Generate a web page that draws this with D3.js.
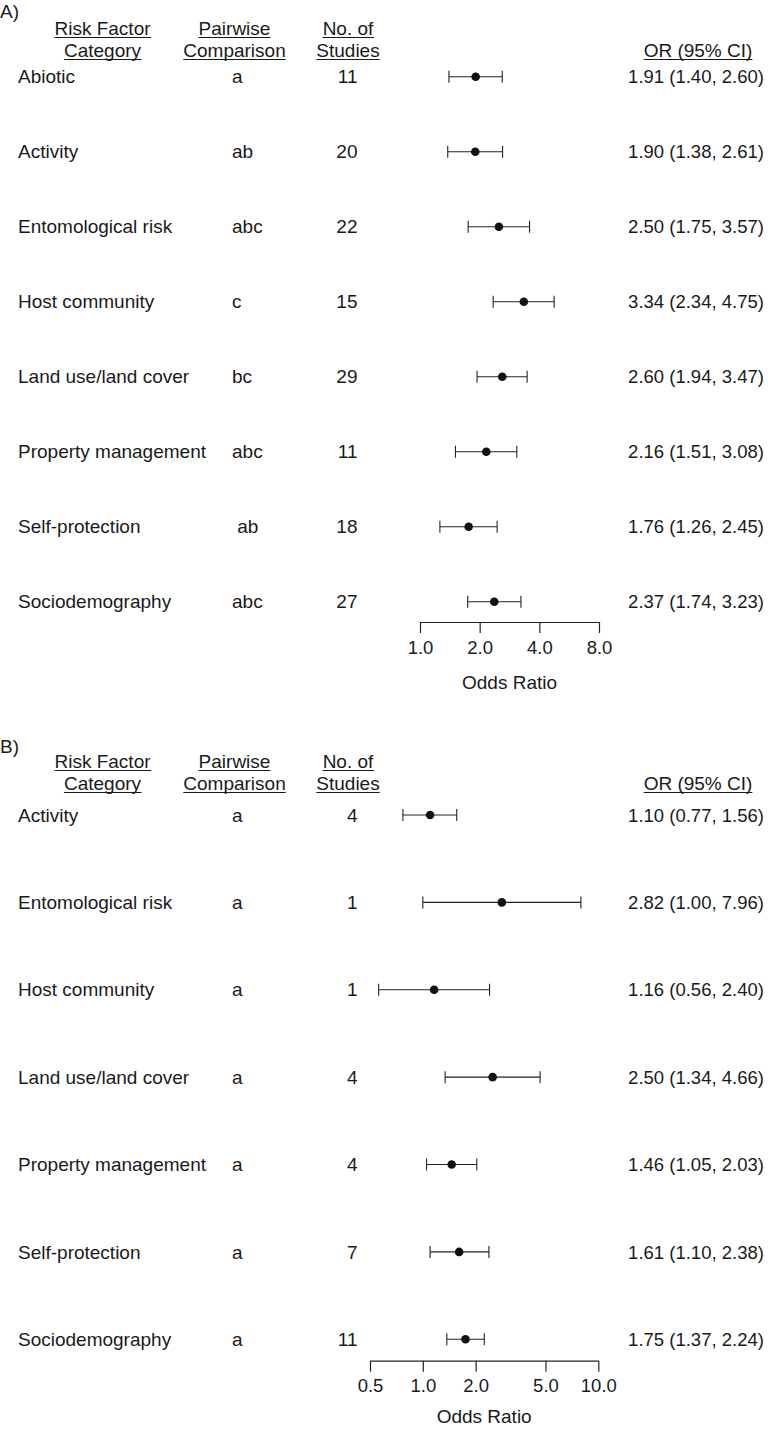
<!DOCTYPE html>
<html>
<head>
<meta charset="utf-8">
<script src="https://cdn.jsdelivr.net/npm/d3@7"></script>
<style>
  html, body { margin: 0; padding: 0; background: #fff; }
  svg text { font-family: "Liberation Sans", Arial, Helvetica, sans-serif; fill: #1a1a1a; }
</style>
</head>
<body>
<svg id="chart" width="768" height="1430"></svg>
<script>
// ---------- Panel A data ----------
const categoriesA = ["Abiotic", "Activity", "Entomological risk", "Host community", "Land use/land cover", "Property management", "Self-protection", "Sociodemography"];
const pairwiseA = ["a", "ab", "abc", "c", "bc", "abc", " ab", "abc"];
const studiesA = [11, 20, 22, 15, 29, 11, 18, 27];
const orA = [1.91, 1.90, 2.50, 3.34, 2.60, 2.16, 1.76, 2.37];
const lowA = [1.40, 1.38, 1.75, 2.34, 1.94, 1.51, 1.26, 1.74];
const highA = [2.60, 2.61, 3.57, 4.75, 3.47, 3.08, 2.45, 3.23];
const ticksA = [1, 2, 4, 8];

// ---------- Panel B data ----------
const categoriesB = ["Activity", "Entomological risk", "Host community", "Land use/land cover", "Property management", "Self-protection", "Sociodemography"];
const pairwiseB = ["a", "a", "a", "a", "a", "a", "a"];
const studiesB = [4, 1, 1, 4, 4, 7, 11];
const orB = [1.10, 2.82, 1.16, 2.50, 1.46, 1.61, 1.75];
const lowB = [0.77, 1.00, 0.56, 1.34, 1.05, 1.10, 1.37];
const highB = [1.56, 7.96, 2.40, 4.66, 2.03, 2.38, 2.24];
const ticksB = [0.5, 1, 2, 5, 10];

const headers = [["Risk Factor", "Category"], ["Pairwise", "Comparison"], ["No. of", "Studies"]];
const orHeader = "OR (95% CI)";
const axisTitle = "Odds Ratio";

const svg = d3.select("#chart");
const f2 = d3.format(".2f");
const f1 = d3.format(".1f");
const FS = 19;
const FN = 18.5;

function underlined(g, x, y, txt, anchor) {
  const t = g.append("text").attr("x", x).attr("y", y).attr("text-anchor", anchor)
    .style("font-size", FS + "px").text(txt);
  const bb = t.node().getBBox();
  g.append("line").attr("x1", bb.x).attr("x2", bb.x + bb.width)
    .attr("y1", y + 2.5).attr("y2", y + 2.5)
    .attr("stroke", "#1a1a1a").attr("stroke-width", 1);
}

function panel(cfg) {
  const g = svg.append("g");
  g.append("text").attr("x", 0).attr("y", cfg.letterY).style("font-size", FS + "px").text(cfg.letter);
  const hx = [102.5, 234.5, 348];
  headers.forEach((h, i) => {
    underlined(g, hx[i], cfg.h1Y, h[0], "middle");
    underlined(g, hx[i], cfg.h2Y, h[1], "middle");
  });
  underlined(g, 698, cfg.h2Y, orHeader, "middle");

  const x = d3.scaleLog().domain(cfg.domain).range(cfg.range);
  const y = d3.scaleLinear().domain([0, cfg.cats.length - 1]).range(cfg.yRange);

  const rows = g.selectAll("g.row").data(cfg.cats.map((c, i) => i)).enter().append("g").attr("class", "row");
  rows.append("text").attr("x", 18).attr("y", i => y(i) + 6.6)
    .style("font-size", FS + "px").text(i => cfg.cats[i]);
  rows.append("text").attr("x", 232).attr("y", i => y(i) + 6.6)
    .style("font-size", FS + "px").style("white-space", "pre").text(i => cfg.pair[i]);
  rows.append("text").attr("x", 357.5).attr("y", i => y(i) + 6.6).attr("text-anchor", "end")
    .style("font-size", FS + "px").text(i => cfg.n[i]);
  rows.append("text").attr("x", 696).attr("y", i => y(i) + 6.6).attr("text-anchor", "middle")
    .style("font-size", FN + "px")
    .text(i => `${f2(cfg.or[i])} (${f2(cfg.lo[i])}, ${f2(cfg.hi[i])})`);

  rows.append("line").attr("x1", i => x(cfg.lo[i])).attr("x2", i => x(cfg.hi[i]))
    .attr("y1", i => y(i)).attr("y2", i => y(i)).attr("stroke", "#222").attr("stroke-width", 1.1);
  rows.append("line").attr("x1", i => x(cfg.lo[i])).attr("x2", i => x(cfg.lo[i]))
    .attr("y1", i => y(i) - 6).attr("y2", i => y(i) + 6).attr("stroke", "#222").attr("stroke-width", 1.1);
  rows.append("line").attr("x1", i => x(cfg.hi[i])).attr("x2", i => x(cfg.hi[i]))
    .attr("y1", i => y(i) - 6).attr("y2", i => y(i) + 6).attr("stroke", "#222").attr("stroke-width", 1.1);
  rows.append("circle").attr("cx", i => x(cfg.or[i])).attr("cy", i => y(i)).attr("r", 4.3).attr("fill", "#111");

  const ax = g.append("g").attr("transform", `translate(0,${cfg.axisY})`)
    .call(d3.axisBottom(x).tickValues(cfg.ticks).tickFormat(f1).tickSize(11).tickSizeOuter(0).tickPadding(8));
  ax.select(".domain").attr("stroke", "#222").attr("stroke-width", 1.2);
  ax.selectAll(".tick line").attr("stroke", "#222").attr("stroke-width", 1.2);
  ax.selectAll(".tick text").style("font-size", FN + "px").attr("fill", "#1a1a1a")
    .attr("dy", null).attr("y", cfg.tickLabY - cfg.axisY);
  g.append("text").attr("x", (cfg.range[0] + cfg.range[1]) / 2).attr("y", cfg.titleY)
    .attr("text-anchor", "middle").style("font-size", FS + "px").text(axisTitle);
}

panel({
  letter: "A)", letterY: 18, h1Y: 35, h2Y: 57,
  cats: categoriesA, pair: pairwiseA, n: studiesA, or: orA, lo: lowA, hi: highA,
  domain: [1, 8], range: [420, 599], ticks: ticksA,
  yRange: [76.7, 601.7], axisY: 622, tickLabY: 654, titleY: 689
});

panel({
  letter: "B)", letterY: 753, h1Y: 768, h2Y: 790,
  cats: categoriesB, pair: pairwiseB, n: studiesB, or: orB, lo: lowB, hi: highB,
  domain: [0.5, 10], range: [370, 598.3], ticks: ticksB,
  yRange: [815, 1339.3], axisY: 1360.7, tickLabY: 1392.5, titleY: 1423
});
</script>
</body>
</html>
